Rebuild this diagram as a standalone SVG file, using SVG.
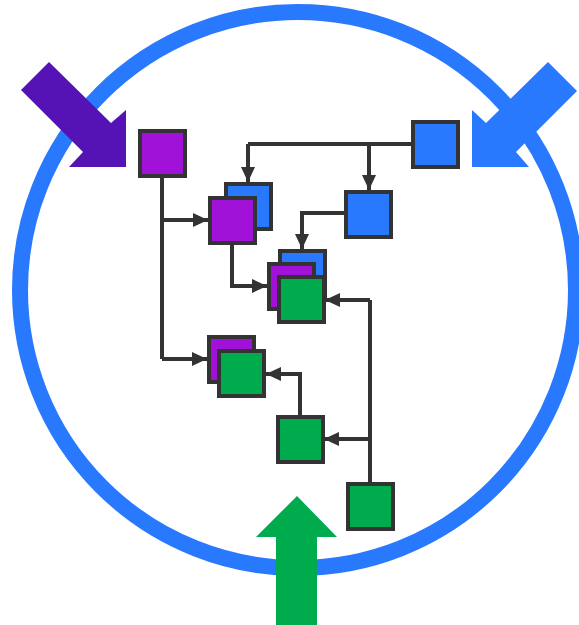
<svg xmlns="http://www.w3.org/2000/svg" width="579" height="625" viewBox="0 0 579 625">
<style>
.node{stroke:#333333;stroke-width:4}
.b{fill:#2979ff}
.p{fill:#a012d8}
.g{fill:#00ab4e}
.edge{fill:none;stroke:#333333;stroke-width:4;marker-end:url(#ah)}
.line{fill:none;stroke:#333333;stroke-width:4}
</style>
<defs>
<marker id="ah" viewBox="0 0 15 14" refX="15" refY="7" markerWidth="15" markerHeight="14" markerUnits="userSpaceOnUse" orient="auto">
<path d="M0,0 L15,7 L0,14 Z" fill="#333333"/>
</marker>
</defs>
<rect width="579" height="625" fill="#ffffff"/>
<circle id="ring" cx="298" cy="290" r="278" fill="none" stroke="#2979ff" stroke-width="16"/>
<g id="arrow-purple"><polygon points="21,90 49,62 111,123 126,110 126,167 69,167 83,152" fill="#5512b5"/></g>
<g id="arrow-blue"><polygon points="577,91 548,62 486,123 472,110 472,167 529,167 516,152" fill="#2979ff"/></g>
<g id="arrow-green"><polygon points="297,496 337,537 317,537 317,625 276,625 276,537 256,537" fill="#00ab4e"/></g>
<g id="connectors">
<path class="line" d="M411,144 H248"/>
<path class="edge" d="M248,144 V182"/>
<path class="edge" d="M369,144 V190"/>
<path class="edge" d="M344,213 H302 V249"/>
<path class="line" d="M162,178 V359"/>
<path class="edge" d="M162,220 H208"/>
<path class="edge" d="M162,359 H207"/>
<path class="edge" d="M232,244 V286 H267"/>
<path class="line" d="M370,482 V300"/>
<path class="edge" d="M370,300 H325"/>
<path class="edge" d="M370,439 H324"/>
<path class="edge" d="M300,415 V374 H266"/>
</g>
<g id="n-p1"><rect class="node p" x="140" y="131" width="45" height="45"/></g>
<g id="n-b1"><rect class="node b" x="413" y="122" width="45" height="45"/></g>
<g id="n-b2"><rect class="node b" x="346" y="192" width="45" height="45"/></g>
<g id="n-stack1"><rect class="node b" x="226" y="184" width="45" height="45"/><rect class="node p" x="210" y="198" width="45" height="45"/></g>
<g id="n-stack2"><rect class="node b" x="280" y="251" width="45" height="45"/><rect class="node p" x="269" y="264" width="45" height="45"/><rect class="node g" x="279" y="277" width="45" height="45"/></g>
<g id="n-stack3"><rect class="node p" x="209" y="337" width="45" height="45"/><rect class="node g" x="219" y="351" width="45" height="45"/></g>
<g id="n-g1"><rect class="node g" x="278" y="417" width="45" height="45"/></g>
<g id="n-g2"><rect class="node g" x="348" y="484" width="45" height="45"/></g>
</svg>
